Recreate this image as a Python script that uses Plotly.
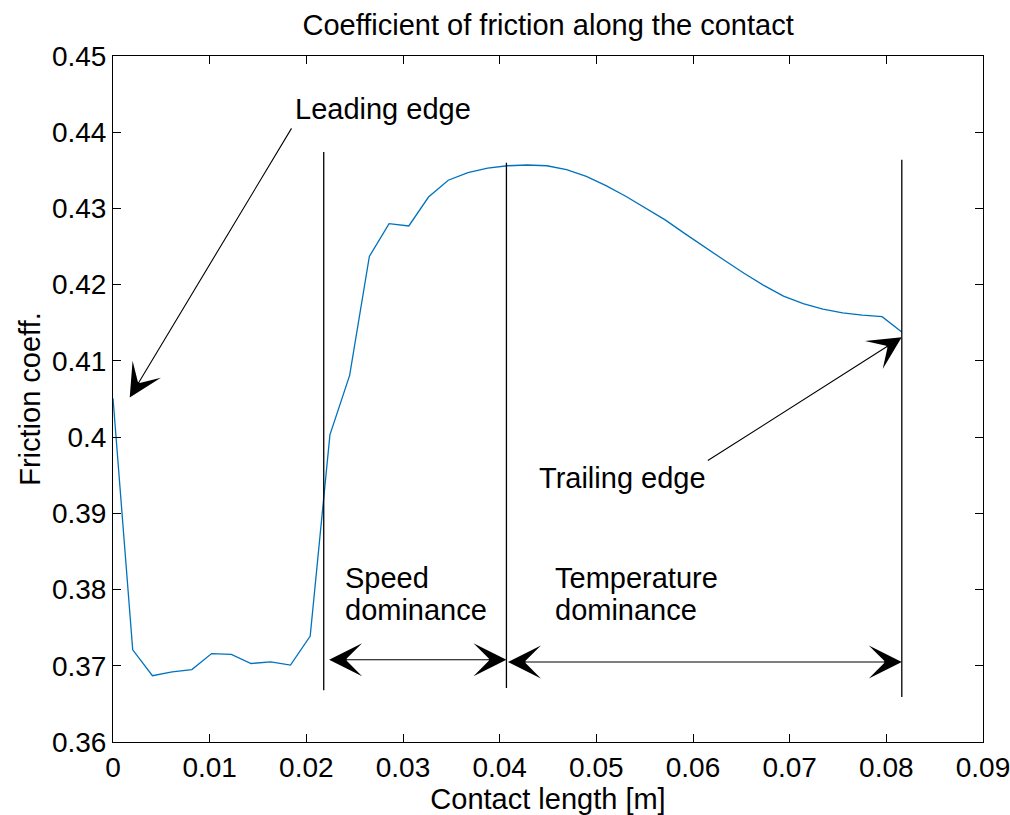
import plotly.graph_objects as go

# ---- data ----
contact_length = [0.0, 0.00204, 0.00408, 0.00612, 0.00816, 0.0102, 0.01224, 0.01428,
                  0.01632, 0.01836, 0.0204, 0.02244, 0.02448, 0.02652, 0.02856, 0.0306,
                  0.03264, 0.03468, 0.03672, 0.03876, 0.0408, 0.04284, 0.04488, 0.04692,
                  0.04896, 0.051, 0.05304, 0.05508, 0.05712, 0.05916, 0.0612, 0.06324,
                  0.06528, 0.06732, 0.06936, 0.0714, 0.07344, 0.07548, 0.07752, 0.07956,
                  0.0816]
friction_coeff = [0.4051, 0.3721, 0.3687, 0.3692, 0.3695, 0.3716, 0.3715, 0.3703,
                  0.3705, 0.3701, 0.3739, 0.4003, 0.4081, 0.4237, 0.4280, 0.4277,
                  0.4315, 0.4337, 0.4347, 0.4353, 0.4356, 0.4357, 0.4356, 0.4351,
                  0.4342, 0.4330, 0.4316, 0.4301, 0.4285, 0.4267, 0.4249, 0.4232,
                  0.4215, 0.4199, 0.4185, 0.4175, 0.4168, 0.4163, 0.4160, 0.4158,
                  0.4138]

divider_x = [0.0218, 0.0407, 0.0816]
divider_y_top = [0.4374, 0.4360, 0.4364]
divider_y_bottom = [0.3668, 0.3671, 0.3659]

x_ticks = [0, 0.01, 0.02, 0.03, 0.04, 0.05, 0.06, 0.07, 0.08, 0.09]
x_tick_labels = ["0", "0.01", "0.02", "0.03", "0.04", "0.05", "0.06", "0.07", "0.08", "0.09"]
y_ticks = [0.36, 0.37, 0.38, 0.39, 0.40, 0.41, 0.42, 0.43, 0.44, 0.45]
y_tick_labels = ["0.36", "0.37", "0.38", "0.39", "0.4", "0.41", "0.42", "0.43", "0.44", "0.45"]

# text labels: (x, y, text)
labels = [
    (0.01859, 0.4430, "Leading edge"),
    (0.04383, 0.3947, "Trailing edge"),
    (0.02376, 0.3815, "Speed"),
    (0.02376, 0.3773, "dominance"),
    (0.04549, 0.3815, "Temperature"),
    (0.04549, 0.3773, "dominance"),
]

FONT = "Liberation Sans, Arial, Helvetica, sans-serif"
FS = 29
TFS = 28

fig = go.Figure()
fig.add_trace(go.Scatter(x=contact_length, y=friction_coeff, mode="lines",
                         line=dict(color="#0072BD", width=1.3), showlegend=False,
                         hoverinfo="skip"))

for xd, yt, yb in zip(divider_x, divider_y_top, divider_y_bottom):
    fig.add_shape(type="line", x0=xd, x1=xd, y0=yb, y1=yt, xref="x", yref="y",
                  line=dict(color="black", width=1.3))

ann = []
AS = 5.0
arrow_common = dict(xref="x", yref="y", axref="x", ayref="y", text="", showarrow=True,
                    arrowcolor="black", arrowwidth=1.1, arrowhead=3, arrowsize=AS)
# leading edge arrow
ann.append(dict(x=0.00173, y=0.4052, ax=0.01856, ay=0.4407, **arrow_common))
# trailing edge arrow
ann.append(dict(x=0.08159, y=0.4131, ax=0.06138, ay=0.3968, **arrow_common))
# speed dominance double arrow
ann.append(dict(x=0.0407, y=0.3708, ax=0.0222, ay=0.3708,
                arrowside="end+start", startarrowhead=3, startarrowsize=AS, **arrow_common))
# temperature dominance double arrow
ann.append(dict(x=0.0816, y=0.3705, ax=0.0407, ay=0.3705,
                arrowside="end+start", startarrowhead=3, startarrowsize=AS, **arrow_common))

for lx, ly, lt in labels:
    ann.append(dict(x=lx, y=ly, text=lt, xref="x", yref="y", showarrow=False,
                    xanchor="left", yanchor="middle", align="left",
                    font=dict(family=FONT, size=FS, color="black")))

axis_common = dict(showline=True, linecolor="black", linewidth=1, mirror="ticks",
                   ticks="inside", ticklen=8, tickcolor="black", tickwidth=1,
                   showgrid=False, zeroline=False, ticklabeloverflow="allow",
                   automargin=False,
                   tickfont=dict(family=FONT, size=TFS, color="black"))

fig.update_layout(
    width=1010, height=815,
    margin=dict(l=113, r=27, t=56, b=73, autoexpand=False),
    paper_bgcolor="white", plot_bgcolor="white",
    title=dict(text="Coefficient of friction along the contact", x=0.5427, xanchor="center",
               y=0.97, yanchor="middle",
               font=dict(family=FONT, size=FS, color="black")),
    xaxis=dict(range=[0, 0.09], tickvals=x_ticks, ticktext=x_tick_labels,
               title=dict(text="Contact length [m]", standoff=2,
                          font=dict(family=FONT, size=FS, color="black")),
               **axis_common),
    yaxis=dict(range=[0.36, 0.45], tickvals=y_ticks, ticktext=y_tick_labels,
               title=dict(text="Friction coeff.", standoff=2,
                          font=dict(family=FONT, size=FS, color="black")),
               **axis_common),
    annotations=ann,
    showlegend=False,
)

fig.write_html("out.html")
